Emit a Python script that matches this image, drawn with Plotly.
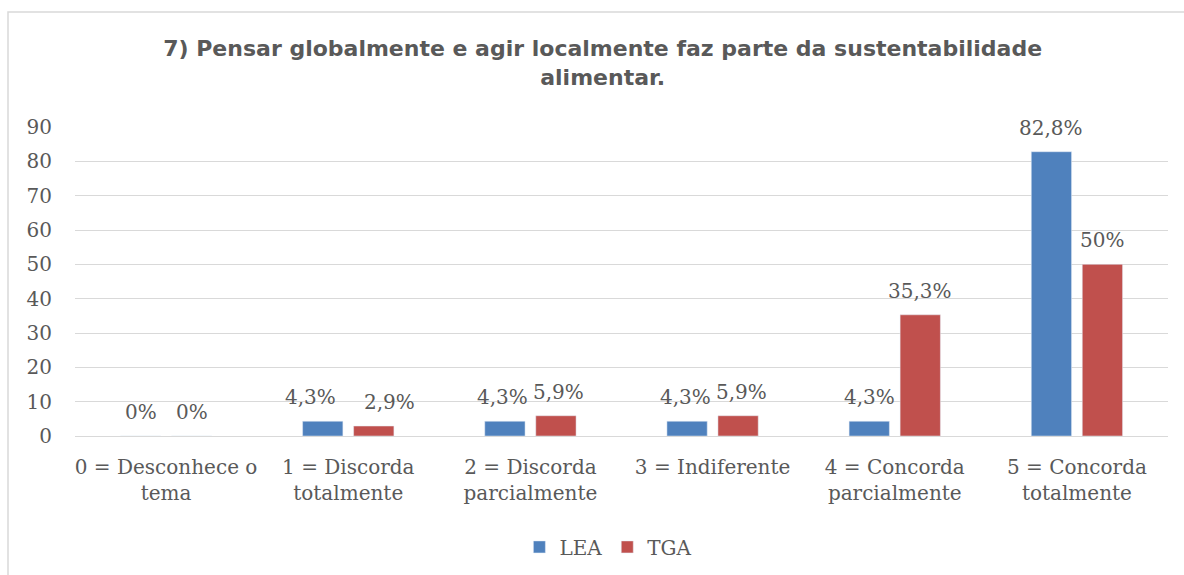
import plotly.graph_objects as go

categories = ["0 = Desconhece o<br>tema", "1 = Discorda<br>totalmente", "2 = Discorda<br>parcialmente",
              "3 = Indiferente", "4 = Concorda<br>parcialmente", "5 = Concorda<br>totalmente"]
lea_values = [0, 4.3, 4.3, 4.3, 4.3, 82.8]
tga_values = [0, 2.9, 5.9, 5.9, 35.3, 50]
lea_labels = ["0%", "4,3%", "4,3%", "4,3%", "4,3%", "82,8%"]
tga_labels = ["0%", "2,9%", "5,9%", "5,9%", "35,3%", "50%"]
y_ticks = [0, 10, 20, 30, 40, 50, 60, 70, 80, 90]

# label nudges (style only, px)
lea_nudge = [0, -12, -2, -2, 0, 0]
tga_nudge = [0, 16, 3, 3, 0, 0]

SERIF = "DejaVu Serif, Liberation Serif, serif"
FS = 20
TXT = "#595959"
W, H = 1184, 575
ML, MR, MT, MB = 75, 16, 127, 139

fig = go.Figure()
fig.add_trace(go.Bar(name="LEA", x=categories, y=lea_values, marker_color="#4F81BD"))
fig.add_trace(go.Bar(name="TGA", x=categories, y=tga_values, marker_color="#C0504D"))

half_slot = (W - ML - MR) / len(categories) * (1 - 0.44) / 4
for cat, v, t, n in zip(categories, lea_values, lea_labels, lea_nudge):
    fig.add_annotation(x=cat, y=v, text=t, showarrow=False, xref="x", yref="y",
                       yanchor="bottom", xshift=-half_slot + n, yshift=10,
                       font=dict(family=SERIF, size=FS, color=TXT))
for cat, v, t, n in zip(categories, tga_values, tga_labels, tga_nudge):
    fig.add_annotation(x=cat, y=v, text=t, showarrow=False, xref="x", yref="y",
                       yanchor="bottom", xshift=half_slot + n, yshift=10,
                       font=dict(family=SERIF, size=FS, color=TXT))

fig.update_layout(
    width=W, height=H,
    margin=dict(l=ML, r=MR, t=MT, b=MB, autoexpand=False),
    paper_bgcolor="white", plot_bgcolor="white",
    barmode="group", bargap=0.44, bargroupgap=0.21,
    title=dict(text="<b>7) Pensar globalmente e agir localmente faz parte da sustentabilidade<br>alimentar.</b>",
               x=0.509, xanchor="center", yref="container", y=1 - 56 / H, yanchor="top",
               font=dict(family="DejaVu Sans, sans-serif", size=22, color=TXT)),
    showlegend=True,
    legend=dict(orientation="h", x=0.488, xanchor="center", y=-0.359, yanchor="middle",
                font=dict(family=SERIF, size=FS, color=TXT), traceorder="normal",
                itemwidth=30),
)
fig.update_xaxes(tickfont=dict(family=SERIF, size=FS, color=TXT), showline=False,
                 ticks="", showgrid=False, ticklabelstandoff=17)
fig.update_yaxes(range=[0, 90], tickvals=y_ticks, tickfont=dict(family=SERIF, size=FS, color=TXT),
                 showgrid=True, gridcolor="#D9D9D9", gridwidth=1.3, zeroline=True,
                 zerolinecolor="#D9D9D9", zerolinewidth=1.3, ticks="", ticklen=0, ticklabelstandoff=22)

fig.add_shape(type="rect", xref="paper", yref="paper",
              x0=(8 - ML) / (W - ML - MR), x1=1.1, y0=-1.0, y1=(H - MB - 12) / (H - MT - MB),
              line=dict(color="#D9D9D9", width=1.5), fillcolor="rgba(0,0,0,0)", layer="below")

fig.write_html("out.html", config={"displayModeBar": False},
               post_script="document.body.style.margin='0';document.body.style.overflow='hidden';")
